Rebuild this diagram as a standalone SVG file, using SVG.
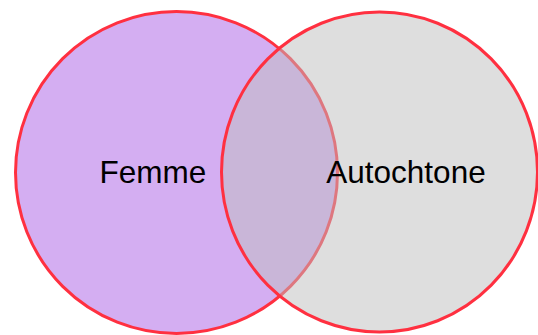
<svg xmlns="http://www.w3.org/2000/svg" width="538" height="335" viewBox="0 0 538 335">
<style>
.c{stroke:#ff3040;stroke-width:3}
.t{font-family:"Liberation Sans",Arial,sans-serif;font-size:31.5px;fill:#000;text-anchor:middle}
</style>
<rect width="538" height="335" fill="#fff"/>
<g id="femme">
<circle class="c" cx="176.5" cy="172.5" r="161" fill="#d4aef2"/>
<text class="t" x="153" y="183">Femme</text>
</g>
<g id="autochtone">
<ellipse class="c" cx="379.5" cy="172" rx="158" ry="160" fill="#bdbdbd" fill-opacity="0.5"/>
<text class="t" x="406" y="183">Autochtone</text>
</g>
<g id="connectors"/>
</svg>
